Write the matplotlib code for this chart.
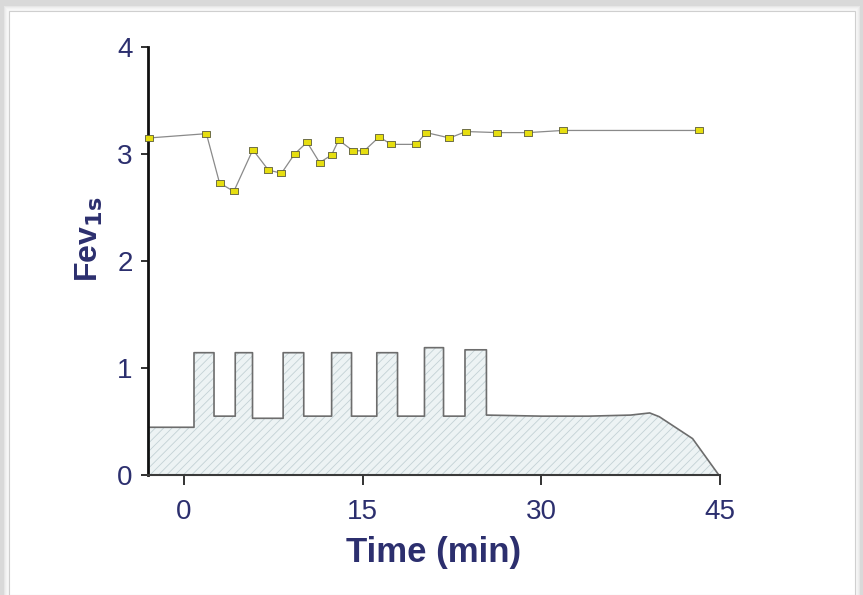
import numpy as np
import matplotlib
matplotlib.use('Agg')
from matplotlib import pyplot as plt
from matplotlib.patches import Rectangle

plt.rcParams['font.family'] = ['Liberation Sans', 'DejaVu Sans']
plt.rcParams['hatch.linewidth'] = 0.6
plt.rcParams['hatch.color'] = '#c3d1d5'

# FEV1 readings (min, litres)
fev_time = [-2.9, 1.9, 3.0, 4.2, 5.8, 7.1, 8.2, 9.3, 10.35, 11.4, 12.4, 13.0,
            14.2, 15.15, 16.4, 17.4, 19.5, 20.35, 22.3, 23.7, 26.3, 28.9, 31.8, 43.2]
fev_value = [3.15, 3.19, 2.73, 2.65, 3.04, 2.85, 2.82, 3.00, 3.11, 2.92, 2.99, 3.13,
             3.03, 3.03, 3.16, 3.09, 3.09, 3.20, 3.15, 3.21, 3.20, 3.20, 3.22, 3.22]

# stepped exercise / challenge profile
step_edges = [-3, 0.86, 2.54, 4.32, 5.77, 8.34, 10.07, 12.41, 14.08, 16.2,
              17.94, 20.2, 21.8, 23.6, 25.4]
step_level = [0.446, 1.143, 0.55, 1.143, 0.53, 1.143, 0.55, 1.143, 0.55,
              1.143, 0.55, 1.19, 0.55, 1.17]
tail_time = [25.4, 30.0, 34.0, 37.5, 39.1, 39.9, 42.7, 44.9]
tail_level = [0.56, 0.55, 0.55, 0.56, 0.58, 0.545, 0.34, 0.0]

navy = '#2c2f6e'

fig = plt.figure(figsize=(8.63, 5.95), dpi=100)
fig.patch.set_facecolor('#d9d9d9')
# white card with soft shadow
W, H = 863.0, 595.0
for k in range(4):
    pad = 4 - k
    fig.patches.append(Rectangle(((8 - pad) / W, 0), (848 + 2 * pad) / W, (585 + pad) / H,
                                 transform=fig.transFigure, facecolor='#ffffff',
                                 alpha=0.35, edgecolor='none', zorder=-2))
fig.patches.append(Rectangle((9 / W, 0), 846 / W, 584 / H, transform=fig.transFigure,
                             facecolor='white', edgecolor='#cfcfcf', linewidth=0.8, zorder=-1))

ax = fig.add_axes([148 / W, 1 - 475 / H, (720 - 148) / W, (475 - 47) / H])
ax.set_facecolor('none')

xs, ys = [], []
for i in range(len(step_level)):
    xs += [step_edges[i], step_edges[i + 1]]
    ys += [step_level[i], step_level[i]]
xs += tail_time
ys += tail_level
xs = np.array(xs)
ys = np.array(ys)

ax.fill_between(xs, ys, 0, facecolor='#edf3f4', edgecolor='#c3d1d5', hatch='////',
                linewidth=0, zorder=1)
ax.plot(xs, ys, color='#6d6d6d', linewidth=1.2, zorder=2)

marker = [(-1, -0.7), (1, -0.7), (1, 0.7), (-1, 0.7), (-1, -0.7)]
ax.plot(fev_time, fev_value, color='#8a8a8a', linewidth=0.9, marker=marker,
        markersize=6, markerfacecolor='#e6de10', markeredgecolor='#5a5a3a',
        markeredgewidth=0.6, zorder=3, clip_on=False)

ax.set_xlim(-3, 45)
ax.set_ylim(0, 4)
ax.set_xticks([0, 15, 30, 45])
ax.set_yticks([0, 1, 2, 3, 4])

for s in ['top', 'right']:
    ax.spines[s].set_visible(False)
ax.spines['left'].set_linewidth(2.0)
ax.spines['left'].set_color('#111111')
ax.spines['bottom'].set_linewidth(1.5)
ax.spines['bottom'].set_color('#3a3a3a')
ax.tick_params(axis='y', length=5, width=1.3, color='#222222', labelsize=20,
               labelcolor=navy, pad=6)
ax.tick_params(axis='x', length=7, width=1.3, color='#222222', labelsize=20,
               labelcolor=navy, pad=10)

ax.set_xlabel('Time (min)', fontsize=25, fontweight='bold', color=navy, labelpad=8)
ax.set_ylabel(r'Fev$_{\mathbf{1s}}$', fontsize=23, fontweight='bold', color=navy)
ax.yaxis.set_label_coords(-0.076, 0.55)

fig.savefig('out.png', dpi=100, facecolor=fig.get_facecolor())
